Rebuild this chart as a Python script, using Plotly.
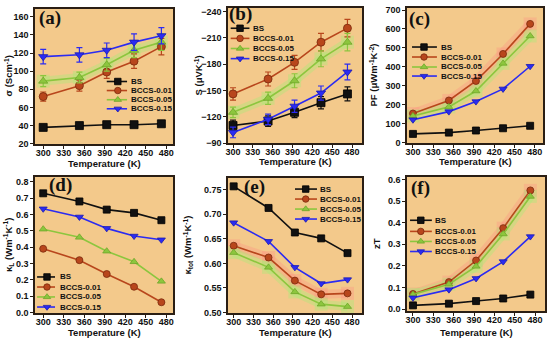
import plotly.graph_objects as go

# ---------------- data ----------------
T = [300, 353, 393, 433, 473]
names = ["BS", "BCCS-0.01", "BCCS-0.05", "BCCS-0.15"]
x_ticks = [300, 330, 360, 390, 420, 450, 480]

# (a) electrical conductivity (S/cm)
sigma_BS = [38, 40, 41, 41, 42]
sigma_001 = [72, 84, 99, 111, 127]
sigma_005 = [89, 93, 107, 123, 132]
sigma_015 = [116, 118, 123, 132, 139]
sigma_err_BS = [3, 3, 3, 3, 3]
sigma_err_001 = [5, 6, 7, 8, 9]
sigma_err_005 = [6, 6, 7, 8, 9]
sigma_err_015 = [8, 8, 8, 9, 9]

# (b) Seebeck coefficient (uV/K)
S_BS = [-110, -115, -125, -136, -146]
S_001 = [-146, -163, -182, -205, -221]
S_005 = [-125, -141, -161, -186, -205]
S_015 = [-102, -117, -132, -147, -171]
S_err_BS = [6, 6, 6, 7, 8]
S_err_001 = [7, 8, 8, 10, 10]
S_err_005 = [6, 7, 8, 9, 10]
S_err_015 = [6, 6, 7, 8, 9]

# (c) power factor (uW m^-1 K^-2)
PF_BS = [45, 52, 63, 75, 88]
PF_001 = [153, 222, 325, 468, 627]
PF_005 = [140, 188, 272, 418, 563]
PF_015 = [120, 163, 216, 283, 403]

# (d) lattice thermal conductivity
kL_BS = [0.73, 0.68, 0.63, 0.61, 0.565]
kL_001 = [0.39, 0.32, 0.235, 0.157, 0.062]
kL_005 = [0.51, 0.46, 0.375, 0.31, 0.19]
kL_015 = [0.635, 0.585, 0.515, 0.468, 0.445]

# (e) total thermal conductivity
ktot_BS = [0.757, 0.713, 0.663, 0.651, 0.621]
ktot_001 = [0.636, 0.612, 0.565, 0.537, 0.539]
ktot_005 = [0.622, 0.592, 0.542, 0.517, 0.512]
ktot_015 = [0.683, 0.645, 0.592, 0.559, 0.567]

# (f) figure of merit
zT_BS = [0.017, 0.025, 0.037, 0.049, 0.067]
zT_001 = [0.070, 0.125, 0.225, 0.375, 0.550]
zT_005 = [0.068, 0.115, 0.198, 0.348, 0.522]
zT_015 = [0.052, 0.090, 0.142, 0.220, 0.336]

# ---------------- styles ----------------
colors = ["#111111", "#B8461C", "#8CC63E", "#2B2BF2"]
edge = ["#000000", "#7A2A0C", "#6EA62A", "#1A1AB0"]
symbols = ["square", "circle", "triangle-up", "triangle-down"]
band_colors = {1: "rgba(255,140,130,0.30)", 2: "rgba(170,235,120,0.40)"}
BG = "#F3C98B"
FRAME = "#2a1e14"
FONT = "Arial, Liberation Sans, sans-serif"
W, H = 550, 342

panels = [
    dict(label="(a)", lab=(50, 18), ys=[sigma_BS, sigma_001, sigma_005, sigma_015],
         errs=[sigma_err_BS, sigma_err_001, sigma_err_005, sigma_err_015],
         xd=[35, 173], yd=[9, 144], xr=[288, 490], yr=[19.7, 168.5],
         tick0=20, dtick=20, fmt="d", title="σ (Scm<sup>-1</sup>)", ytx=8, xty=163,
         msize=8, bands=[2],
         leg=dict(x0=0.52, xm=0.60, x1=0.667, xt=0.68, rows=[0.463, 0.396, 0.328, 0.261])),
    dict(label="(b)", lab=(240, 14), ys=[S_BS, S_001, S_005, S_015],
         errs=[S_err_BS, S_err_001, S_err_005, S_err_015],
         xd=[228, 362], yd=[8, 143], xr=[292.4, 495], yr=[-90, -244],
         tick0=-240, dtick=30, fmt="d", title="S (μVK<sup>-1</sup>)", ytx=198, xty=161,
         msize=8, bands=[2],
         leg=dict(x0=0.02, xm=0.09, x1=0.16, xt=0.17, rows=[0.85, 0.775, 0.70, 0.625])),
    dict(label="(c)", lab=(419, 19), ys=[PF_BS, PF_001, PF_005, PF_015], errs=None,
         xd=[407, 543], yd=[8, 143], xr=[291.2, 492], yr=[-3, 711],
         tick0=0, dtick=100, fmt="d", title="PF (μWm<sup>-1</sup>K<sup>-2</sup>)", ytx=373, xty=162,
         msize=7, bands=[1, 2],
         leg=dict(x0=0.037, xm=0.125, x1=0.22, xt=0.235, rows=[0.711, 0.637, 0.563, 0.496])),
    dict(label="(d)", lab=(60, 185), ys=[kL_BS, kL_001, kL_005, kL_015], errs=None,
         xd=[35, 173], yd=[177, 313], xr=[288, 490], yr=[-0.004, 0.83],
         tick0=0, dtick=0.1, fmt=".1f", title="κ<sub>L</sub> (Wm<sup>-1</sup>K<sup>-1</sup>)", ytx=8, xty=332,
         msize=7, bands=[],
         leg=dict(x0=0.015, xm=0.087, x1=0.145, xt=0.17, rows=[0.265, 0.191, 0.118, 0.044])),
    dict(label="(e)", lab=(254, 187), ys=[ktot_BS, ktot_001, ktot_005, ktot_015], errs=None,
         xd=[228, 362], yd=[178, 313], xr=[291.4, 495], yr=[0.499, 0.774],
         tick0=0.5, dtick=0.05, fmt=".2f", title="κ<sub>tot</sub> (Wm<sup>-1</sup>K<sup>-1</sup>)", ytx=188, xty=332,
         msize=7, bands=[1, 2],
         leg=dict(x0=0.5, xm=0.58, x1=0.664, xt=0.675, rows=[0.918, 0.844, 0.77, 0.696])),
    dict(label="(f)", lab=(420, 188), ys=[zT_BS, zT_001, zT_005, zT_015], errs=None,
         xd=[407, 545], yd=[177, 311], xr=[291.2, 494.6], yr=[-0.009, 0.612],
         tick0=0, dtick=0.1, fmt=".1f", title="zT", ytx=376, xty=332,
         msize=7, bands=[1, 2],
         leg=dict(x0=0.022, xm=0.10, x1=0.18, xt=0.19, rows=[0.677, 0.594, 0.519, 0.444])),
]


def px_x(v):
    return v / W


def px_y(v):
    return 1 - v / H


fig = go.Figure()
layout = dict(
    template="none",
    width=W, height=H, margin=dict(l=0, r=0, t=0, b=0, autoexpand=False),
    paper_bgcolor="white", plot_bgcolor="rgba(0,0,0,0)", showlegend=False,
    font=dict(family=FONT, size=9, color="#111"),
    annotations=[], shapes=[],
)

for i, p in enumerate(panels):
    n = i + 1
    xa = "x" if n == 1 else f"x{n}"
    ya = "y" if n == 1 else f"y{n}"
    xkey = "xaxis" if n == 1 else f"xaxis{n}"
    ykey = "yaxis" if n == 1 else f"yaxis{n}"
    m = n + 6
    xo, yo = f"x{m}", f"y{m}"
    xdom = [px_x(p["xd"][0]), px_x(p["xd"][1])]
    ydom = [px_y(p["yd"][1]), px_y(p["yd"][0])]

    common = dict(
        ticks="outside", ticklen=3, tickwidth=1.2, tickcolor=FRAME,
        showline=True, linecolor=FRAME, linewidth=1.5, mirror=True, showgrid=False,
        zeroline=False, automargin=False,
        tickfont=dict(family=FONT, size=9, weight="bold", color="#111"),
    )
    layout[xkey] = dict(domain=xdom, anchor=ya, range=p["xr"], tickvals=x_ticks,
                        ticklabelstandoff=-4, **common)
    layout[ykey] = dict(domain=ydom, anchor=xa, range=p["yr"], tick0=p["tick0"],
                        dtick=p["dtick"], tickformat=p["fmt"], **common)
    layout[f"xaxis{m}"] = dict(domain=xdom, anchor=yo, range=[0, 1], visible=False,
                               overlaying=xa, automargin=False)
    layout[f"yaxis{m}"] = dict(domain=ydom, anchor=xo, range=[0, 1], visible=False,
                               overlaying=ya, automargin=False)

    # plot-area background
    layout["shapes"].append(dict(
        type="rect", xref=f"{xa} domain", yref=f"{ya} domain", x0=0, x1=1, y0=0, y1=1,
        fillcolor=BG, line=dict(width=0), layer="below"))

    # translucent highlight bands
    for k in p["bands"]:
        fig.add_trace(go.Scatter(
            x=T, y=p["ys"][k], mode="lines+markers", xaxis=xa, yaxis=ya,
            line=dict(color=band_colors[k], width=9),
            marker=dict(symbol="square", size=13, color=band_colors[k]),
            hoverinfo="skip"))

    # series
    for k in range(4):
        err = None
        if p["errs"] is not None:
            err = dict(type="data", array=p["errs"][k], visible=True,
                       color=colors[k], thickness=1.2, width=3)
        fig.add_trace(go.Scatter(
            x=T, y=p["ys"][k], mode="lines+markers", name=names[k], xaxis=xa, yaxis=ya,
            line=dict(color=colors[k], width=1.6),
            marker=dict(symbol=symbols[k], size=p["msize"], color=colors[k],
                        line=dict(color=edge[k], width=0.8)),
            error_y=err))

    # custom legend keys
    L = p["leg"]
    for k in range(4):
        yy = L["rows"][k]
        fig.add_trace(go.Scatter(
            x=[L["x0"], L["x1"]], y=[yy, yy], mode="lines", xaxis=xo, yaxis=yo,
            line=dict(color=colors[k], width=1.6), hoverinfo="skip"))
        fig.add_trace(go.Scatter(
            x=[L["xm"]], y=[yy], mode="markers", xaxis=xo, yaxis=yo,
            marker=dict(symbol=symbols[k], size=6.5, color=colors[k],
                        line=dict(color=edge[k], width=0.8)), hoverinfo="skip"))
        layout["annotations"].append(dict(
            text=names[k], xref=f"{xa} domain", yref=f"{ya} domain",
            x=L["xt"], y=yy, xanchor="left", yanchor="middle", showarrow=False,
            font=dict(family=FONT, size=8, weight="bold", color="#111")))

    # panel label
    layout["annotations"].append(dict(
        text=p["label"], xref="paper", yref="paper",
        x=px_x(p["lab"][0]), y=px_y(p["lab"][1]), xanchor="center", yanchor="middle",
        showarrow=False,
        font=dict(family="Liberation Serif, Times New Roman, serif", size=19,
                  weight="bold", color="#111")))

    # axis titles
    layout["annotations"].append(dict(
        text="Temperature (K)", xref="paper", yref="paper",
        x=px_x((p["xd"][0] + p["xd"][1]) / 2), y=px_y(p["xty"]),
        xanchor="center", yanchor="middle", showarrow=False,
        font=dict(family=FONT, size=9.5, weight="bold", color="#111")))
    layout["annotations"].append(dict(
        text=p["title"], xref="paper", yref="paper", textangle=-90,
        x=px_x(p["ytx"]), y=px_y((p["yd"][0] + p["yd"][1]) / 2),
        xanchor="center", yanchor="middle", showarrow=False,
        font=dict(family=FONT, size=9.5, weight="bold", color="#111")))

fig.update_layout(**layout)
fig.write_html("out.html", config={"displayModeBar": False},
               post_script="document.body.style.margin='0';document.body.style.padding='0';")
